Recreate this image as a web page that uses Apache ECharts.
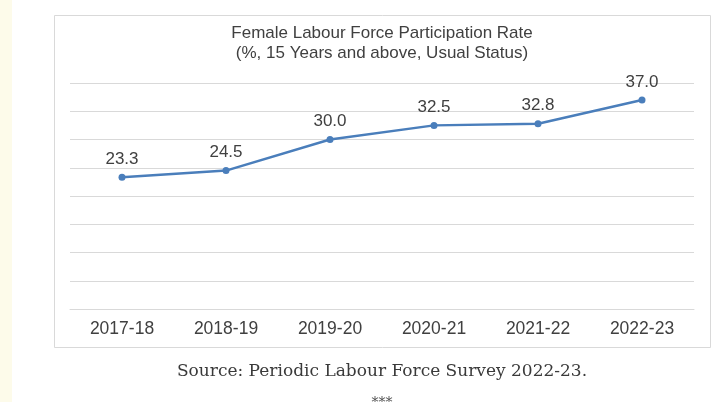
<!DOCTYPE html>
<html>
<head>
<meta charset="utf-8">
<script src="https://cdn.jsdelivr.net/npm/echarts@6/dist/echarts.min.js"></script>
<style>
html,body{margin:0;padding:0;background:#fff;}
#chart{width:720px;height:402px;}
</style>
</head>
<body>
<div id="chart"></div>
<script>
var categories = ['2017-18', '2018-19', '2019-20', '2020-21', '2021-22', '2022-23'];
var flfpr = [23.3, 24.5, 30.0, 32.5, 32.8, 37.0];
var titleLines = ['Female Labour Force Participation Rate', '(%, 15 Years and above, Usual Status)'];
var sourceText = 'Source: Periodic Labour Force Survey 2022-23.';

var chart = echarts.init(document.getElementById('chart'), null, {renderer: 'canvas'});
chart.setOption({
  animation: false,
  backgroundColor: '#ffffff',
  graphic: [
    {type: 'rect', left: 0, top: 0, shape: {width: 12, height: 402}, style: {fill: '#fdfbea'}, z: -10},
    {type: 'rect', left: 54, top: 15, shape: {width: 656, height: 332}, style: {fill: '#ffffff', stroke: '#d9d9d9', lineWidth: 1}, z: -5},
    {type: 'text', x: 382, y: 23, style: {text: titleLines.join('\n'), fill: '#404040', font: '17px "Liberation Sans", Arial, sans-serif', textAlign: 'center', textVerticalAlign: 'top', lineHeight: 20}},
    {type: 'text', x: 382, y: 372, style: {text: sourceText, fill: '#3a3a3a', font: '17px "DejaVu Serif", serif', textAlign: 'center', textVerticalAlign: 'middle'}},
    {type: 'text', x: 382, y: 403, style: {text: '***', fill: '#555555', font: '14px "DejaVu Serif", serif', textAlign: 'center', textVerticalAlign: 'middle'}}
  ],
  grid: {left: 70, right: 26, top: 83, bottom: 93},
  xAxis: {
    type: 'category',
    data: categories,
    boundaryGap: true,
    axisLine: {lineStyle: {color: '#d9d9d9', width: 1}},
    axisTick: {show: false},
    axisLabel: {color: '#404040', fontSize: 17.5, fontFamily: '"Liberation Sans", Arial, sans-serif', margin: 11}
  },
  yAxis: {
    type: 'value',
    min: 0, max: 40, interval: 5,
    axisLabel: {show: false},
    axisLine: {show: false},
    axisTick: {show: false},
    splitLine: {lineStyle: {color: '#d9d9d9', width: 1}}
  },
  series: [{
    type: 'line',
    data: flfpr,
    symbol: 'circle',
    symbolSize: 7,
    lineStyle: {color: '#4a7ebb', width: 2.5},
    itemStyle: {color: '#4a7ebb'},
    label: {
      show: true, position: 'top', distance: 6,
      color: '#404040', fontSize: 17, fontFamily: '"Liberation Sans", Arial, sans-serif',
      formatter: function (p) { return p.value.toFixed(1); }
    }
  }]
});
</script>
</body>
</html>
